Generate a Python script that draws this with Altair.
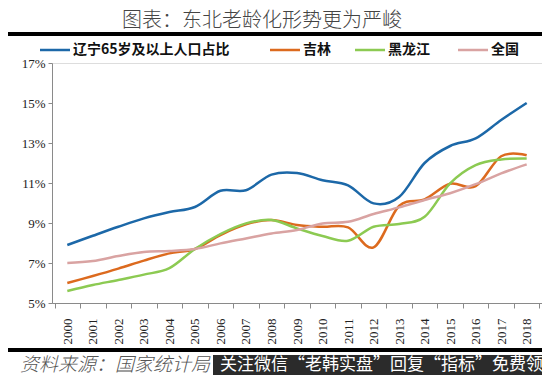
import altair as alt
import pandas as pd

years = [str(y) for y in range(2000, 2019)]
series_names = ["辽宁65岁及以上人口占比", "吉林", "黑龙江", "全国"]
series_colors = ["#1c68a8", "#dc6a1e", "#8cca52", "#d9a3a2"]

liaoning = [7.9, 8.36, 8.81, 9.23, 9.55, 9.8, 10.61, 10.64, 11.42, 11.5, 11.14, 10.88, 9.98, 10.3, 12.0, 12.85, 13.23, 14.15, 15.0]
jilin = [6.0, 6.35, 6.72, 7.12, 7.48, 7.7, 8.4, 8.93, 9.15, 8.9, 8.81, 8.78, 7.78, 9.85, 10.18, 10.96, 10.84, 12.34, 12.39]
heilongjiang = [5.6, 5.9, 6.15, 6.42, 6.74, 7.7, 8.45, 8.98, 9.15, 8.73, 8.35, 8.11, 8.81, 8.95, 9.31, 10.98, 11.89, 12.18, 12.23]
quanguo = [7.0, 7.1, 7.35, 7.55, 7.6, 7.7, 7.98, 8.23, 8.48, 8.65, 8.98, 9.06, 9.45, 9.78, 10.15, 10.49, 10.94, 11.48, 11.93]

y_ticks = [5, 7, 9, 11, 13, 15, 17]

title_text = "图表：东北老龄化形势更为严峻"
source_text = "资料来源：国家统计局"
overlay_text = "关注微信“老韩实盘”回复“指标”免费领"

rows = []
for name, vals in zip(series_names, [liaoning, jilin, heilongjiang, quanguo]):
    for yr, v in zip(years, vals):
        rows.append({"year": yr, "series": name, "value": v})
df = pd.DataFrame(rows)

SERIF = "Liberation Serif"
CJK = "Noto Sans CJK SC"

color_scale = alt.Scale(domain=series_names, range=series_colors)

lines = alt.Chart(df).mark_line(interpolate="cardinal", strokeWidth=2.5).encode(
    x=alt.X("year:O", bandPosition=0.5,
            scale=alt.Scale(type="band", paddingInner=0, paddingOuter=0.1),
            axis=alt.Axis(title=None, labelAngle=270, labelFont=SERIF, labelFontSize=13,
                          labelColor="#222", tickBand="extent", tickSize=5,
                          domainColor="#8a8a8a", tickColor="#8a8a8a", labelPadding=10,
                          labelAlign="right", labelBaseline="middle")),
    y=alt.Y("value:Q", scale=alt.Scale(domain=[5, 17], nice=False, zero=False),
            axis=alt.Axis(title=None, values=y_ticks, labelExpr="datum.value + '%'",
                          labelFont=SERIF, labelFontSize=13, labelColor="#222",
                          tickSize=4, domainColor="#8a8a8a", tickColor="#8a8a8a",
                          grid=False, labelPadding=3)),
    color=alt.Color("series:N", scale=color_scale, legend=None),
    detail="series:N",
)

# manual legend (layout positions relative to plot origin)
leg_x = [-12, 218, 303, 406]
leg_layers = []
for i, name in enumerate(series_names):
    d = pd.DataFrame({"series": [name]})
    leg_layers.append(
        alt.Chart(d).mark_rule(strokeWidth=2.5).encode(
            x=alt.value(leg_x[i]), x2=alt.value(leg_x[i] + 30), y=alt.value(-13),
            color=alt.Color("series:N", scale=color_scale, legend=None))
    )
    leg_layers.append(
        alt.Chart(d).mark_text(align="left", baseline="middle", font=CJK, fontSize=14,
                               fontWeight="bold", color="#111").encode(
            x=alt.value(leg_x[i] + 33), y=alt.value(-13), text="series:N")
    )

title = alt.Chart(pd.DataFrame({"t": [title_text]})).mark_text(
    align="center", baseline="middle", font=CJK, fontSize=20, fontWeight=300, color="#444"
).encode(x=alt.value(210), y=alt.value(-42), text="t:N")

top_rule = alt.Chart(pd.DataFrame({"a": [0]})).mark_rule(strokeWidth=4, color="#000").encode(
    x=alt.value(-47), x2=alt.value(500), y=alt.value(-29))
bottom_rule = alt.Chart(pd.DataFrame({"a": [0]})).mark_rule(strokeWidth=4, color="#000").encode(
    x=alt.value(-47), x2=alt.value(500), y=alt.value(287))

source = alt.Chart(pd.DataFrame({"t": [source_text]})).mark_text(
    align="left", baseline="middle", font=CJK, fontSize=19, fontStyle="italic",
    fontWeight=300, color="#555"
).encode(x=alt.value(-32), y=alt.value(302), text="t:N")

overlay_box = alt.Chart(pd.DataFrame({"a": [0]})).mark_rect(color="#2b2b2b").encode(
    x=alt.value(161), x2=alt.value(500), y=alt.value(292), y2=alt.value(330))
overlay = alt.Chart(pd.DataFrame({"t": [overlay_text]})).mark_text(
    align="left", baseline="middle", font=CJK, fontSize=17, color="#ffffff"
).encode(x=alt.value(168), y=alt.value(302), text="t:N")

chart = alt.layer(
    lines, *leg_layers, title, top_rule, bottom_rule, source, overlay_box, overlay
).properties(
    width=490, height=240,
    autosize=alt.AutoSizeParams(type="none"),
    padding={"left": 44, "top": 55, "right": 0, "bottom": 72},
).configure_view(stroke=None).configure(background="#ffffff")

chart.save("out.html", embed_options={"renderer": "svg", "actions": False})
